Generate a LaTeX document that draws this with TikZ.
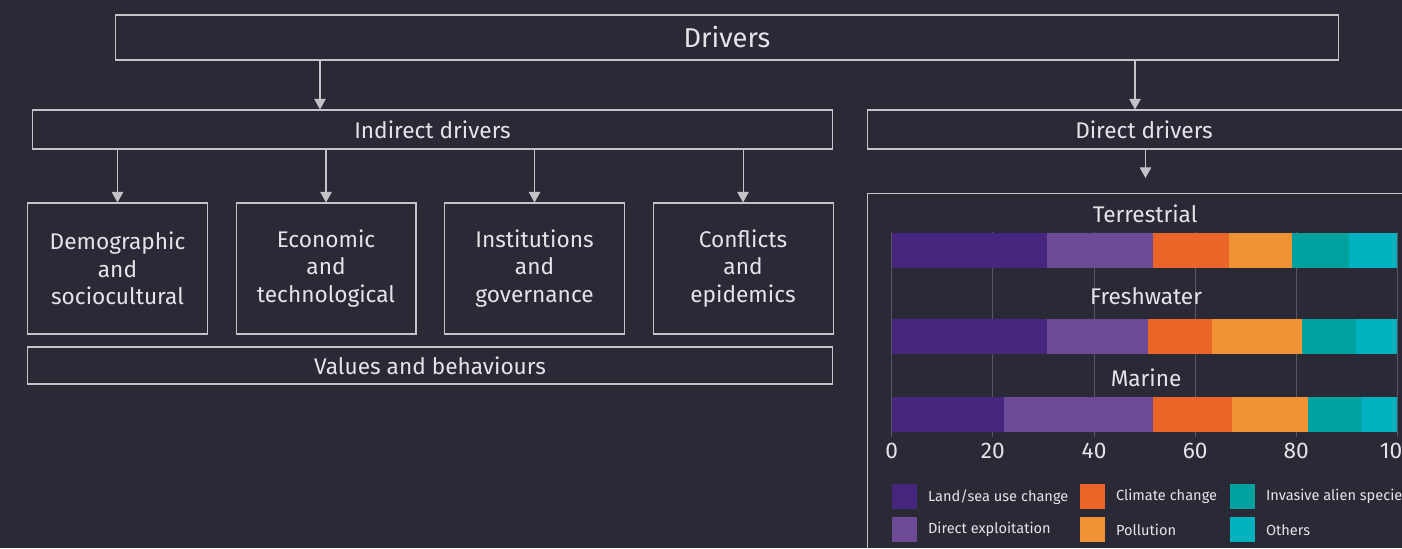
\documentclass[tikz,border=0pt]{standalone}
\usepackage{fontspec}
\setmainfont{Fira Sans}
\usetikzlibrary{positioning, calc, arrows.meta}

\definecolor{bgcol}{HTML}{2A2A36}
\definecolor{boxline}{HTML}{C4C4C8}
\definecolor{txt}{HTML}{E4E4E8}
\definecolor{gridcol}{HTML}{575763}
\definecolor{landuse}{HTML}{46257F}
\definecolor{exploit}{HTML}{6C4A96}
\definecolor{climate}{HTML}{EB6528}
\definecolor{pollute}{HTML}{F19235}
\definecolor{invasive}{HTML}{00A19F}
\definecolor{others}{HTML}{00B2C0}

% one stacked bar: top edge, then the five inner boundaries (in %)
\newcommand{\stackbar}[6]{%
  \fill[landuse]  (0,#1)  rectangle (#2,#1+35);
  \fill[exploit]  (#2,#1) rectangle (#3,#1+35);
  \fill[climate]  (#3,#1) rectangle (#4,#1+35);
  \fill[pollute]  (#4,#1) rectangle (#5,#1+35);
  \fill[invasive] (#5,#1) rectangle (#6,#1+35);
  \fill[others]   (#6,#1) rectangle (100,#1+35);}

\begin{document}
\begin{tikzpicture}
    [x=0.02cm, y=-0.02cm,
    box/.style={rectangle, draw=boxline, line width=0.6pt, text=txt, inner sep=0pt,
      font=\fontsize{12.9}{15.6}\selectfont},
    catbox/.style={box, minimum width=3.6cm, minimum height=2.62cm, align=center},
    arr/.style={draw=boxline, line width=0.6pt, -{Triangle[width=6.5pt,length=6pt]}},
    chartlbl/.style={text=txt, inner sep=1pt, font=\fontsize{12.9}{14}\selectfont},
    legsq/.style={minimum size=0.5cm, inner sep=0pt},
    legtxt/.style={text=txt, inner sep=0pt, font=\fontsize{8.3}{10}\selectfont},]

    \fill[bgcol] (0,0) rectangle (1402,548);
    \clip (0,0) rectangle (1402,548);

    %Nodes
    \node[box, minimum width=24.48cm, minimum height=0.9cm,
      font=\fontsize{15.5}{18}\selectfont] (drivers) at (727,37.5) {Drivers};
    \node[box, minimum width=16.02cm, minimum height=0.78cm] (indirect) at (432.5,129.5) {Indirect drivers};
    \node[box, minimum width=11.08cm, minimum height=0.78cm] (direct) at (1144,129.5) {Direct drivers};

    \node[catbox] (demo) at (117.5,268.5) {Demographic\\and\\sociocultural};
    \node[catbox, right=0.55cm of demo] (econ) {Economic\\and\\technological};
    \node[catbox, right=0.55cm of econ] (inst) {Institutions\\and\\governance};
    \node[catbox, right=0.55cm of inst] (conf) {Conflicts\\and\\epidemics};
    \node[box, minimum width=16.12cm, minimum height=0.74cm] (values) at (430,365.5) {Values and behaviours};

    \node[draw=boxline, line width=0.6pt, minimum width=11.12cm, minimum height=7.6cm,
      anchor=north west, inner sep=0pt] (chart) at (867,193) {};

    %Arrows
    \coordinate (leftdrop) at (320,85);
    \coordinate (rightdrop) at (1135,85);
    \draw[arr] (drivers.south -| leftdrop) -- (indirect.north -| leftdrop);
    \draw[arr] (drivers.south -| rightdrop) -- (direct.north -| rightdrop);
    \foreach \n in {demo, econ, inst, conf}
      \draw[arr] (indirect.south -| \n.north) -- (\n.north);
    \draw[arr] (direct.south -| chart.north) -- ([yshift=0.3cm]chart.north);

    %Chart
    \begin{scope}[shift={(891.8,0)}, x=0.10114cm]
      \foreach \v in {0,20,...,100}{
        \draw[gridcol, line width=0.6pt] (\v,232) -- (\v,437);
        \node[chartlbl] (tick-\v) at (\v,451) {\v};
      }
      \stackbar{233.3}{30.6}{51.6}{66.7}{79.1}{90.5}
      \stackbar{319.3}{30.6}{50.6}{63.4}{81.2}{91.9}
      \stackbar{397.3}{22.1}{51.6}{67.2}{82.3}{92.8}
      \node[chartlbl] (terr) at (50.1,214) {Terrestrial};
      \node[chartlbl] (fresh) at (50.3,296) {Freshwater};
      \node[chartlbl] (marine) at (50.3,378) {Marine};
    \end{scope}

    %Legend
    \foreach \c/\x/\y/\t in {landuse/892/484/{Land/sea use change}, exploit/892/517/{Direct exploitation},
        climate/1080/484/{Climate change}, pollute/1080/517/{Pollution},
        invasive/1230/484/{Invasive alien species}, others/1230/517/{Others}}{
      \node[legsq, fill=\c, anchor=north west] (sq-\c) at (\x,\y) {};
      \node[legtxt, right=0.2cm of sq-\c] (lt-\c) {\t};
    }
\end{tikzpicture}
\end{document}
